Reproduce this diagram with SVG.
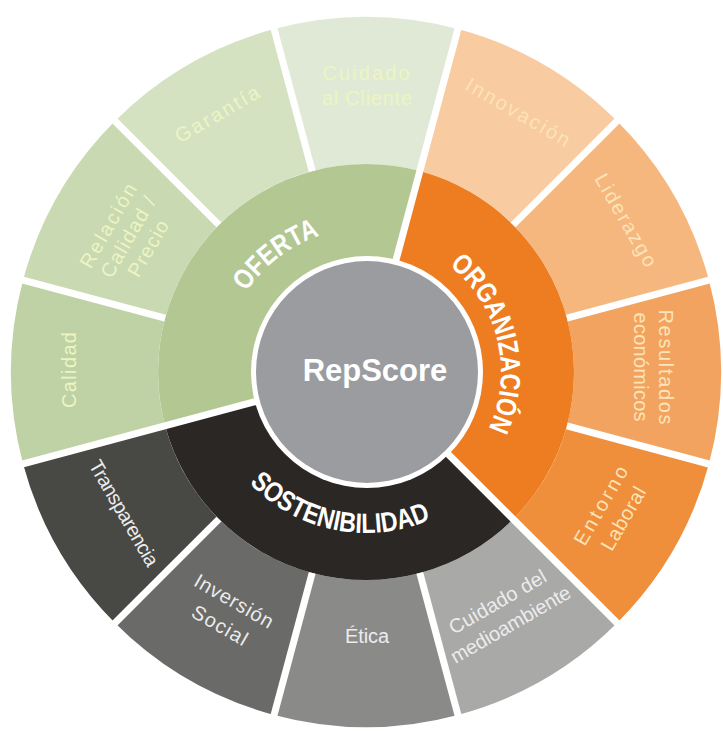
<svg xmlns="http://www.w3.org/2000/svg" width="723" height="731" viewBox="0 0 723 731">
<defs>
<style>
.lbl{font-family:"Liberation Sans",Arial,sans-serif;font-size:20px;text-anchor:middle;}
.tg{fill:#ecf5c2;}
.to{fill:#fde3b8;}
.tk{fill:#ececec;}
.ring{font-family:"Liberation Sans",Arial,sans-serif;font-weight:bold;font-size:28px;fill:#ffffff;}
.div{stroke:#ffffff;stroke-width:7;fill:none;}
</style>
<path id="arcOferta" d="M 230.7 322.7 A 144 144 0 0 1 353.4 228.5"/>
<path id="arcOrg" d="M 433.5 255.1 A 135 135 0 0 1 479.2 445.5"/>
<path id="arcSost" d="M 226.6 452.5 A 161 161 0 0 0 463.8 499.9"/>
</defs>
<rect width="723" height="731" fill="#ffffff"/>

<!-- outer ring -->
<g id="calidad">
<path d="M 23.1 463.9 A 355 355 0 0 1 23.1 280.1 L 165.1 318.2 A 208 208 0 0 0 165.1 425.8 Z" fill="#bfd2a5"/>
<text class="lbl tg" transform="translate(69,370) rotate(-90)" y="7" textLength="76">Calidad</text>
</g>
<g id="relacion">
<path d="M 23.1 280.1 A 355 355 0 0 1 115 121 L 218.9 224.9 A 208 208 0 0 0 165.1 318.2 Z" fill="#c9d9b2"/>
<g transform="translate(128,237) rotate(-60)">
<text class="lbl tg" y="-16" textLength="94">Relación</text>
<text class="lbl tg" y="7" textLength="90">Calidad /</text>
<text class="lbl tg" y="30" textLength="62">Precio</text>
</g>
</g>
<g id="garantia">
<path d="M 115 121 A 355 355 0 0 1 274.1 29.1 L 312.2 171.1 A 208 208 0 0 0 218.9 224.9 Z" fill="#d4e2c2"/>
<text class="lbl tg" transform="translate(217,114) rotate(-30)" y="7" textLength="94">Garantía</text>
</g>
<g id="cuidado-cliente">
<path d="M 274.1 29.1 A 355 355 0 0 1 457.9 29.1 L 419.8 171.1 A 208 208 0 0 0 312.2 171.1 Z" fill="#e0e9d5"/>
<text class="lbl tg" x="366" y="80" textLength="87">Cuidado</text>
<text class="lbl tg" x="367" y="105" textLength="90">al Cliente</text>
</g>
<g id="innovacion">
<path d="M 457.9 29.1 A 355 355 0 0 1 617 121 L 513.1 224.9 A 208 208 0 0 0 419.8 171.1 Z" fill="#f8cba1"/>
<text class="lbl to" transform="translate(518,112) rotate(30)" y="7" textLength="117">Innovación</text>
</g>
<g id="liderazgo">
<path d="M 617 121 A 355 355 0 0 1 708.9 280.1 L 566.9 318.2 A 208 208 0 0 0 513.1 224.9 Z" fill="#f5b77e"/>
<text class="lbl to" transform="translate(626,220) rotate(60)" y="7" textLength="104">Liderazgo</text>
</g>
<g id="resultados">
<path d="M 708.9 280.1 A 355 355 0 0 1 708.9 463.9 L 566.9 425.8 A 208 208 0 0 0 566.9 318.2 Z" fill="#f2a35f"/>
<g transform="translate(654,367) rotate(90)">
<text class="lbl to" y="-5" textLength="115">Resultados</text>
<text class="lbl to" y="20" textLength="109">económicos</text>
</g>
</g>
<g id="entorno">
<path d="M 708.9 463.9 A 355 355 0 0 1 617 623 L 513.1 519.1 A 208 208 0 0 0 566.9 425.8 Z" fill="#ef8e3b"/>
<g transform="translate(612,512) rotate(-60)">
<text class="lbl to" y="-6" textLength="88">Entorno</text>
<text class="lbl to" y="20" textLength="70">Laboral</text>
</g>
</g>
<g id="medioambiente">
<path d="M 617 623 A 355 355 0 0 1 457.9 714.9 L 419.8 572.9 A 208 208 0 0 0 513.1 519.1 Z" fill="#a9a9a8"/>
<g transform="translate(504,613) rotate(-30)">
<text class="lbl tk" y="-6" textLength="109">Cuidado del</text>
<text class="lbl tk" y="20" textLength="135">medioambiente</text>
</g>
</g>
<g id="etica">
<path d="M 457.9 714.9 A 355 355 0 0 1 274.1 714.9 L 312.2 572.9 A 208 208 0 0 0 419.8 572.9 Z" fill="#8a8a89"/>
<text class="lbl tk" x="367" y="643" textLength="44">Ética</text>
</g>
<g id="inversion">
<path d="M 274.1 714.9 A 355 355 0 0 1 115 623 L 218.9 519.1 A 208 208 0 0 0 312.2 572.9 Z" fill="#6a6a69"/>
<g transform="translate(227,613) rotate(30)">
<text class="lbl tk" y="-7" textLength="88">Inversión</text>
<text class="lbl tk" y="21" textLength="61">Social</text>
</g>
</g>
<g id="transparencia">
<path d="M 115 623 A 355 355 0 0 1 23.1 463.9 L 165.1 425.8 A 208 208 0 0 0 218.9 519.1 Z" fill="#484845"/>
<text class="lbl tk" transform="translate(124,513) rotate(60)" y="7" textLength="119">Transparencia</text>
</g>

<!-- middle ring -->
<g id="oferta">
<path d="M 366 372 L 165.1 425.8 A 208 208 0 0 1 419.8 171.1 Z" fill="#b2c792"/>
<text class="ring"><textPath href="#arcOferta" startOffset="50%" text-anchor="middle" textLength="94" lengthAdjust="spacingAndGlyphs">OFERTA</textPath></text>
</g>
<g id="organizacion">
<path d="M 366 372 L 419.8 171.1 A 208 208 0 0 1 513.1 519.1 Z" fill="#ed7d20"/>
<text class="ring"><textPath href="#arcOrg" startOffset="50%" text-anchor="middle" textLength="181" lengthAdjust="spacingAndGlyphs">ORGANIZACIÓN</textPath></text>
</g>
<g id="sostenibilidad">
<path d="M 366 372 L 513.1 519.1 A 208 208 0 0 1 165.1 425.8 Z" fill="#2a2725"/>
<text class="ring"><textPath href="#arcSost" startOffset="50%" text-anchor="middle" textLength="197" lengthAdjust="spacingAndGlyphs">SOSTENIBILIDAD</textPath></text>
</g>

<!-- dividers -->
<g id="connectors">
<line class="div" x1="566.9" y1="425.8" x2="712.7" y2="465"/>
<line class="div" x1="366" y1="372" x2="619.8" y2="625.8"/>
<line class="div" x1="366" y1="372" x2="19.3" y2="464.9"/>
<line class="div" x1="366" y1="372" x2="458.9" y2="25.3"/>
<line class="div" x1="419.8" y1="572.9" x2="458.9" y2="718.7"/>
<line class="div" x1="312.2" y1="572.9" x2="273.1" y2="718.7"/>
<line class="div" x1="218.9" y1="519.1" x2="112.2" y2="625.8"/>
<line class="div" x1="165.1" y1="318.2" x2="19.3" y2="279.1"/>
<line class="div" x1="218.9" y1="224.9" x2="112.2" y2="118.2"/>
<line class="div" x1="312.2" y1="171.1" x2="273.1" y2="25.3"/>
<line class="div" x1="513.1" y1="224.9" x2="619.8" y2="118.2"/>
<line class="div" x1="566.9" y1="318.2" x2="712.7" y2="279.1"/>
</g>

<!-- centre -->
<g id="repscore">
<circle cx="367" cy="372" r="116" fill="#ffffff"/>
<circle cx="367" cy="372" r="111" fill="#9a9ca0"/>
<text x="375" y="381" font-family="Liberation Sans, Arial, sans-serif" font-weight="bold" font-size="31" fill="#ffffff" text-anchor="middle">RepScore</text>
</g>
</svg>
